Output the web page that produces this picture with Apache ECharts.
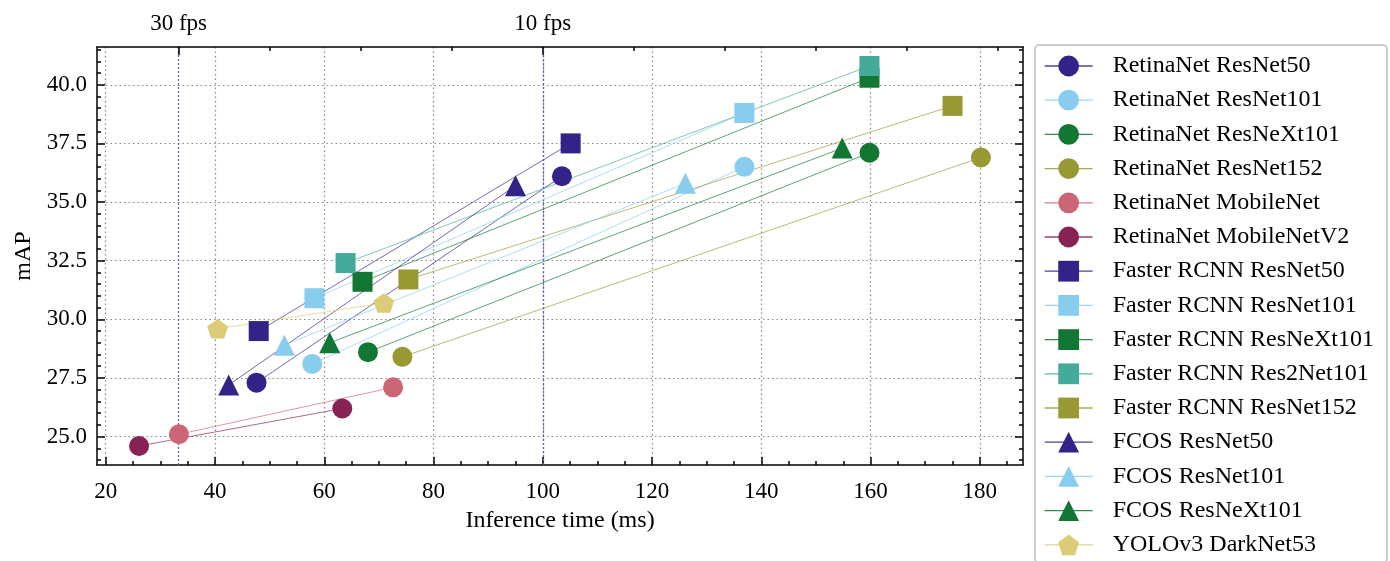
<!DOCTYPE html>
<html>
<head>
<meta charset="utf-8">
<script src="https://cdn.jsdelivr.net/npm/echarts@6/dist/echarts.min.js"></script>
<style>
  html, body { margin: 0; padding: 0; background: #fff; }
  #chart { width: 1390px; height: 561px; }
</style>
</head>
<body>
<div id="chart"></div>
<script>
// axis ranges and ticks
const xMin = 18.4, xMax = 187.9;
const yMin = 23.79, yMax = 41.61;
const xTicks = [20, 40, 60, 80, 100, 120, 140, 160, 180];
const yTicks = [25.0, 27.5, 30.0, 32.5, 35.0, 37.5, 40.0];
const fpsTicks = [33.333, 100];
const fpsMinorTicks = [50, 66.667, 83.333, 116.667, 133.333, 150, 166.667, 183.333];

// [inference time (ms), mAP] for the two input sizes of each model
const retinaResNet50 = [[47.6, 27.3], [103.5, 36.1]];
const retinaResNet101 = [[57.8, 28.1], [136.9, 36.5]];
const retinaResNeXt101 = [[68.0, 28.6], [159.8, 37.1]];
const retinaResNet152 = [[74.3, 28.4], [180.2, 36.9]];
const retinaMobileNet = [[33.4, 25.1], [72.6, 27.1]];
const retinaMobileNetV2 = [[26.1, 24.6], [63.3, 26.2]];
const fasterResNet50 = [[48.0, 29.5], [105.1, 37.5]];
const fasterResNet101 = [[58.2, 30.9], [136.9, 38.8]];
const fasterResNeXt101 = [[67.0, 31.6], [159.8, 40.3]];
const fasterRes2Net101 = [[63.9, 32.4], [159.8, 40.8]];
const fasterResNet152 = [[75.4, 31.7], [175.0, 39.1]];
const fcosResNet50 = [[42.5, 27.2], [95.0, 35.7]];
const fcosResNet101 = [[52.7, 28.9], [126.1, 35.8]];
const fcosResNeXt101 = [[61.0, 29.0], [154.8, 37.3]];
const yoloDarkNet53 = [[40.5, 29.6], [70.9, 30.7]];

const pentagon = 'path://M0,-1L0.951,-0.309L0.588,0.809L-0.588,0.809L-0.951,-0.309Z';

const models = [
  { name: 'RetinaNet ResNet50', data: retinaResNet50, symbol: 'circle', color: '#332288' },
  { name: 'RetinaNet ResNet101', data: retinaResNet101, symbol: 'circle', color: '#88CCEE' },
  { name: 'RetinaNet ResNeXt101', data: retinaResNeXt101, symbol: 'circle', color: '#117733' },
  { name: 'RetinaNet ResNet152', data: retinaResNet152, symbol: 'circle', color: '#999933' },
  { name: 'RetinaNet MobileNet', data: retinaMobileNet, symbol: 'circle', color: '#CC6677' },
  { name: 'RetinaNet MobileNetV2', data: retinaMobileNetV2, symbol: 'circle', color: '#882255' },
  { name: 'Faster RCNN ResNet50', data: fasterResNet50, symbol: 'rect', color: '#332288' },
  { name: 'Faster RCNN ResNet101', data: fasterResNet101, symbol: 'rect', color: '#88CCEE' },
  { name: 'Faster RCNN ResNeXt101', data: fasterResNeXt101, symbol: 'rect', color: '#117733' },
  { name: 'Faster RCNN Res2Net101', data: fasterRes2Net101, symbol: 'rect', color: '#44AA99' },
  { name: 'Faster RCNN ResNet152', data: fasterResNet152, symbol: 'rect', color: '#999933' },
  { name: 'FCOS ResNet50', data: fcosResNet50, symbol: 'triangle', color: '#332288' },
  { name: 'FCOS ResNet101', data: fcosResNet101, symbol: 'triangle', color: '#88CCEE' },
  { name: 'FCOS ResNeXt101', data: fcosResNeXt101, symbol: 'triangle', color: '#117733' },
  { name: 'YOLOv3 DarkNet53', data: yoloDarkNet53, symbol: pentagon, color: '#DDCC77' },
];

const FONT = 'Liberation Serif';
const xMinorTicks = [];
for (let v = 20; v <= 185; v += 5) xMinorTicks.push(v);
const yMinorTicks = [];
for (let v = 24; v <= 41.5; v += 0.5) yMinorTicks.push(v);

function symbolSizeOf(symbol) {
  if (symbol === 'circle') return 20;
  if (symbol === 'rect') return 20;
  if (symbol === 'triangle') return 21;
  return [21, 19.5];
}

const axisLineStyle = { show: true, onZero: false, lineStyle: { color: '#000', width: 1.5 } };
const gridLine = { show: true, lineStyle: { color: '#888', width: 1.2, type: [1.5, 3] } };

function xAxisOf(position, ticks, len, extra) {
  return Object.assign({
    type: 'value', min: xMin, max: xMax, position: position,
    axisLine: { show: false, onZero: false },
    axisTick: { show: true, inside: true, length: len, customValues: ticks, lineStyle: { color: '#000', width: 1.5 } },
    axisLabel: { show: false },
    splitLine: { show: false },
  }, extra || {});
}
function yAxisOf(position, ticks, len, extra) {
  return Object.assign({
    type: 'value', min: yMin, max: yMax, position: position,
    axisLine: { show: false, onZero: false },
    axisTick: { show: true, inside: true, length: len, customValues: ticks, lineStyle: { color: '#000', width: 1.5 } },
    axisLabel: { show: false },
    splitLine: { show: false },
  }, extra || {});
}

const chart = echarts.init(document.getElementById('chart'));
const option = {
  animation: false,
  backgroundColor: '#fff',
  textStyle: { fontFamily: FONT },
  grid: { left: 97, right: 367, top: 47, bottom: 96, containLabel: false },
  legend: {
    orient: 'vertical',
    left: 1035, top: 45, height: 600,
    itemWidth: 48, itemHeight: 26, itemGap: 10.2,
    padding: [9, 13, 6, 9],
    backgroundColor: '#fff',
    borderColor: '#cccccc', borderWidth: 2, borderRadius: 4,
    textStyle: { fontFamily: FONT, fontSize: 24, color: '#000', padding: [0, 0, 0, 15] },
    lineStyle: { width: 1.3 },
    data: models.map(m => m.name),
  },
  xAxis: [
    xAxisOf('bottom', xTicks, 8, {
      axisLine: axisLineStyle,
      axisLabel: { show: true, customValues: xTicks, margin: 15, fontSize: 23, fontFamily: FONT, color: '#000' },
      splitLine: gridLine,
      name: 'Inference time (ms)', nameLocation: 'middle', nameGap: 44,
      nameTextStyle: { fontSize: 24, fontFamily: FONT, color: '#000' },
    }),
    xAxisOf('bottom', xMinorTicks, 4),
    xAxisOf('top', fpsTicks, 8, {
      z: 1,
      axisLine: axisLineStyle,
      axisLabel: {
        show: true, customValues: fpsTicks, margin: 12, fontSize: 23, fontFamily: FONT, color: '#000',
        formatter: v => Math.round(1000 / v) + ' fps',
      },
      splitLine: { show: true, lineStyle: { color: '#5f5fdc', width: 1.3, type: [2, 2] } },
    }),
    xAxisOf('top', fpsMinorTicks, 4),
  ],
  yAxis: [
    yAxisOf('left', yTicks, 8, {
      axisLine: axisLineStyle,
      axisLabel: {
        show: true, customValues: yTicks, margin: 10, fontSize: 23, fontFamily: FONT, color: '#000',
        formatter: v => v.toFixed(1),
      },
      splitLine: gridLine,
      name: 'mAP', nameLocation: 'middle', nameGap: 58,
      nameTextStyle: { fontSize: 24, fontFamily: FONT, color: '#000' },
    }),
    yAxisOf('left', yMinorTicks, 4),
    yAxisOf('right', yTicks, 8, { axisLine: axisLineStyle }),
    yAxisOf('right', yMinorTicks, 4),
  ],
  series: models.map(m => ({
    name: m.name,
    type: 'line',
    xAxisIndex: 0,
    yAxisIndex: 0,
    data: m.data,
    symbol: m.symbol,
    symbolSize: symbolSizeOf(m.symbol),
    showSymbol: true,
    itemStyle: { color: m.color, opacity: 1 },
    lineStyle: { color: m.color, width: 0.8, opacity: 0.85 },
    emphasis: { disabled: true },
    z: 3,
  })),
};
chart.setOption(option);
</script>
</body>
</html>
